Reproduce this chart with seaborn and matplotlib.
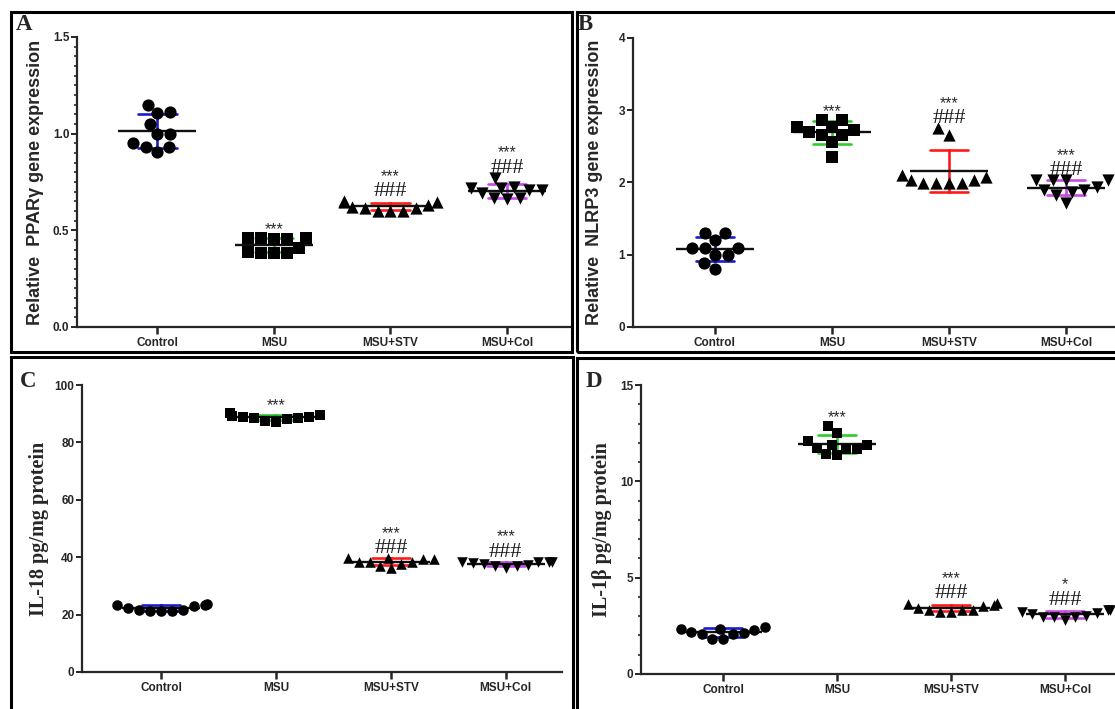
import numpy as np
import pandas as pd
import seaborn as sns
import matplotlib.pyplot as plt
from matplotlib.patches import Rectangle
from matplotlib.ticker import MultipleLocator

groups = ["Control", "MSU", "MSU+STV", "MSU+Col"]
markers = ["o", "s", "^", "v"]
bar_colors = ["#1a1acd", "#2ecc2e", "#ff1a1a", "#c84be8"]

# A - PPARγ relative expression
pparg_control = [1.15, 1.105, 1.11, 1.05, 1.0, 1.0, 0.95, 0.93, 0.93, 0.905]
pparg_msu = [0.41, 0.39, 0.385, 0.455, 0.46, 0.462, 0.46, 0.455, 0.385, 0.385]
pparg_stv = [0.614, 0.614, 0.602, 0.622, 0.648, 0.652, 0.648, 0.602, 0.631, 0.602]
pparg_col = [0.709, 0.692, 0.666, 0.709, 0.772, 0.726, 0.666, 0.718, 0.661, 0.72]
pparg_stars = ["", "***", "***", "***"]
pparg_hash = ["", "", "###", "###"]

# B - NLRP3 relative expression
nlrp3_control = [1.1, 1.1, 1.3, 1.3, 1.2, 1.1, 1.0, 1.0, 0.89, 0.8]
nlrp3_msu = [2.66, 2.66, 2.87, 2.87, 2.56, 2.72, 2.77, 2.77, 2.35, 2.7]
nlrp3_stv = [2.75, 2.66, 2.03, 1.99, 1.99, 2.03, 2.11, 1.99, 2.08, 1.99]
nlrp3_col = [1.9, 2.03, 1.9, 2.03, 1.87, 2.03, 1.94, 2.03, 1.83, 1.72]
nlrp3_stars = ["", "***", "***", "***"]
nlrp3_hash = ["", "", "###", "###"]

# C - IL-18 pg/mg protein
il18_control = [22.3, 21.7, 21.1, 21.7, 23.7, 22.9, 23.2, 21.3, 23.2, 21.3]
il18_msu = [88.6, 88.4, 88.2, 89.0, 90.1, 89.6, 89.0, 87.2, 89.2, 87.5]
il18_stv = [38.5, 38.2, 37.6, 38.5, 39.7, 39.4, 39.4, 37.0, 39.7, 36.2]
il18_col = [37.6, 37.4, 37.1, 36.8, 38.5, 38.5, 38.3, 37.9, 36.4, 38.5]
il18_stars = ["", "***", "***", "***"]
il18_hash = ["", "", "###", "###"]

# D - IL-1β pg/mg protein
il1b_control = [2.12, 2.08, 2.08, 2.2, 2.46, 2.29, 2.34, 1.82, 2.34, 1.82]
il1b_msu = [11.88, 11.7, 11.7, 11.74, 11.91, 12.87, 12.52, 11.39, 12.09, 11.43]
il1b_stv = [3.33, 3.33, 3.33, 3.45, 3.62, 3.68, 3.59, 3.24, 3.55, 3.24]
il1b_col = [2.98, 2.98, 3.02, 3.1, 3.33, 3.33, 3.16, 2.98, 3.24, 2.81]
il1b_stars = ["", "***", "***", "*"]
il1b_hash = ["", "", "###", "###"]

sns.set_style("ticks")
plt.rcParams["font.family"] = ["Liberation Sans", "DejaVu Sans"]
plt.rcParams["font.weight"] = "bold"

W, H = 1115, 709
fig = plt.figure(figsize=(W / 100, H / 100), dpi=100)


def px_axes(left, right, top, bottom):
    return fig.add_axes([left / W, 1 - bottom / H, (right - left) / W, (bottom - top) / H])


panels = [
    dict(ax=px_axes(77, 571, 37, 327), data=[pparg_control, pparg_msu, pparg_stv, pparg_col],
         stars=pparg_stars, hashes=pparg_hash, top=1.5, major=0.5, minor=0.05,
         fmt="{:.1f}", xlim=(-0.69, 3.55), ms=8.8,
         ylabel="Relative  PPARγ gene expression", serif=False, lab_x=-0.066,
         letter="A", lpos=(24, 24)),
    dict(ax=px_axes(633, 1115, 38, 327), data=[nlrp3_control, nlrp3_msu, nlrp3_stv, nlrp3_col],
         stars=nlrp3_stars, hashes=nlrp3_hash, top=4, major=1, minor=None,
         fmt="{:.0f}", xlim=(-0.70, 3.42), ms=8.8,
         ylabel="Relative  NLRP3 gene expression", serif=False, lab_x=-0.062,
         letter="B", lpos=(585, 25)),
    dict(ax=px_axes(82, 562, 385, 672), data=[il18_control, il18_msu, il18_stv, il18_col],
         stars=il18_stars, hashes=il18_hash, top=100, major=20, minor=None,
         fmt="{:.0f}", xlim=(-0.69, 3.49), ms=7.6,
         ylabel="IL-18 pg/mg protein", serif=True, lab_x=-0.068,
         letter="C", lpos=(28, 381)),
    dict(ax=px_axes(641, 1115, 385, 674), data=[il1b_control, il1b_msu, il1b_stv, il1b_col],
         stars=il1b_stars, hashes=il1b_hash, top=15, major=5, minor=1,
         fmt="{:.0f}", xlim=(-0.72, 3.44), ms=7.6,
         ylabel="IL-1β pg/mg protein", serif=True, lab_x=-0.062,
         letter="D", lpos=(594, 381)),
]

for p in panels:
    ax = p["ax"]
    for g, vals, m, c in zip(groups, p["data"], markers, bar_colors):
        sub = pd.DataFrame({"group": g, "value": vals})
        # SD error bars and mean line sit behind the points
        sns.pointplot(data=sub, x="group", y="value", order=groups, errorbar="sd",
                      capsize=0.33, color=c, marker="", linestyle="none",
                      err_kws={"linewidth": 1.9, "zorder": 2}, ax=ax)
        sns.pointplot(data=sub, x="group", y="value", order=groups, errorbar=None,
                      color="#111111", marker="_", markersize=56, markeredgewidth=1.7,
                      linestyle="none", ax=ax, zorder=3)
        sns.swarmplot(data=sub, x="group", y="value", order=groups, marker=m,
                      color="black", size=p["ms"], linewidth=0, ax=ax, zorder=4,
                      warn_thresh=1.0)

    # significance marks
    for i, vals in enumerate(p["data"]):
        top_val = max(vals)
        if p["hashes"][i]:
            ax.annotate(p["hashes"][i], xy=(i, top_val), xytext=(0, 3.6), textcoords="offset points",
                        ha="center", va="baseline", family="Liberation Serif",
                        fontweight="normal", fontsize=16, color="#1a1a1a", zorder=5)
        if p["stars"][i]:
            off = 14.6 if p["hashes"][i] else 2.6
            ax.annotate(p["stars"][i], xy=(i, top_val), xytext=(0, off), textcoords="offset points",
                        ha="center", va="baseline", fontweight="normal",
                        fontsize=11.5, color="#2a2a2a", zorder=5)

    ax.set_xlim(*p["xlim"])
    ax.set_ylim(0, p["top"])
    ax.yaxis.set_major_locator(MultipleLocator(p["major"]))
    if p["minor"]:
        ax.yaxis.set_minor_locator(MultipleLocator(p["minor"]))
    ticks = np.arange(0, p["top"] + p["major"] / 2, p["major"])
    ax.set_yticks(ticks)
    ax.set_yticklabels([p["fmt"].format(t) for t in ticks], fontsize=8.5, fontweight="bold")
    ax.set_xticks(range(len(groups)))
    ax.set_xticklabels(groups, fontsize=8.5, fontweight="bold")
    ax.set_xlabel("")
    sns.despine(ax=ax)
    for s in ["left", "bottom"]:
        ax.spines[s].set_linewidth(1.6)
    ax.tick_params(axis="y", which="major", length=4, width=1.4, pad=1.5)
    ax.tick_params(axis="y", which="minor", length=2.5, width=1.2)
    ax.tick_params(axis="x", length=5, width=1.8, pad=2)
    ax.set_facecolor("none")

    if p["serif"]:
        ax.set_ylabel(p["ylabel"], family="Liberation Serif", fontweight="bold", fontsize=14.5)
    else:
        ax.set_ylabel(p["ylabel"], fontweight="bold", fontsize=13)
    ax.yaxis.set_label_coords(p["lab_x"], 0.5)

    fig.text(p["lpos"][0] / W, 1 - p["lpos"][1] / H, p["letter"], family="Liberation Serif",
             fontweight="bold", fontsize=16.5, ha="center", va="center")

# panel frames
for x0, x1, y0, y1 in [(11, 572, 12, 352), (577, 1125, 12, 352),
                       (11, 573, 357, 715), (577, 1125, 358, 715)]:
    fig.add_artist(Rectangle((x0 / W, 1 - y1 / H), (x1 - x0) / W, (y1 - y0) / H,
                             transform=fig.transFigure, fill=False, lw=2.2, ec="black"))

fig.savefig("out.png", dpi=100)
